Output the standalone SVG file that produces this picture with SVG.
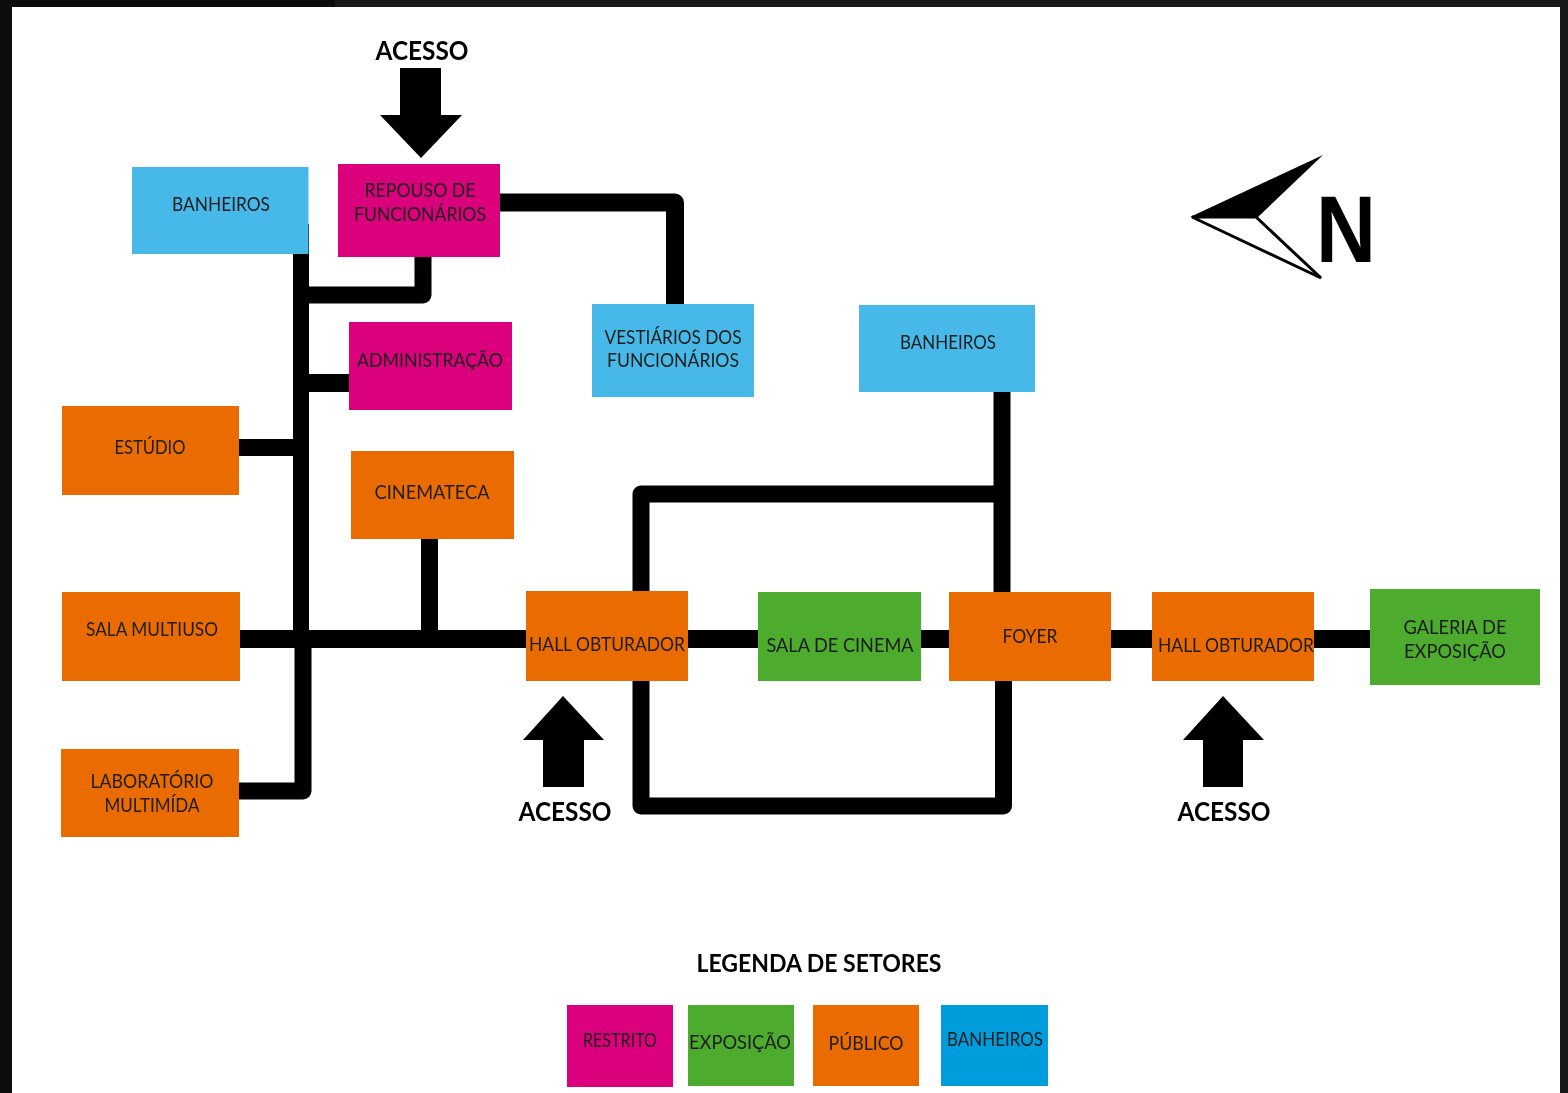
<svg xmlns="http://www.w3.org/2000/svg" width="1568" height="1093" viewBox="0 0 1568 1093">
<defs><filter id="soft" x="-5%" y="-20%" width="110%" height="140%"><feGaussianBlur stdDeviation="0.5"/></filter></defs>
<style>
.m{fill:#db007b}.b{fill:#46b9e9}.o{fill:#ea6c00}.g{fill:#4dab2e}.lb{fill:#009ddd}
text{font-family:"Lato","Liberation Sans",sans-serif;fill:#1c1c1c;font-size:20px;text-anchor:middle;filter:url(#soft)}
.h{font-weight:700;fill:#000;font-size:26px}
.w{fill:none;stroke:#000;stroke-width:16;stroke-linejoin:round;stroke-linecap:butt}
.t{stroke-width:18}
.l{stroke-width:17}
</style>
<rect width="1568" height="1093" fill="#fff"/>
<g id="frame"><rect width="335" height="7" fill="#0c0c0c"/><rect x="335" width="1233" height="7" fill="#191919"/><rect y="0" width="12" height="1093" fill="#0c0c0c"/><rect x="1560" y="0" width="8" height="1093" fill="#191919"/></g>
<g id="connectors">
<path class="w" d="M301 224V639"/>
<path class="w l" d="M303 639V791H239"/>
<path class="w l" d="M301 295H423V257"/>
<path class="w t" d="M301 383H349"/>
<path class="w l" d="M239 447.500H301"/>
<path class="w t" d="M499 202.500H675V304"/>
<path class="w t" d="M240 639H1370"/>
<path class="w l" d="M429.500 539V639"/>
<path class="w l" d="M641 592V494H1002"/>
<path class="w l" d="M1002 392V592"/>
<path class="w l" d="M641 681V806H1003.500V681"/>
</g>
<g id="no1"><rect class="b" x="132" y="167" width="176.500" height="87"/><text x="221" y="211" textLength="98" lengthAdjust="spacingAndGlyphs">BANHEIROS</text></g>
<g id="no2"><rect class="m" x="338" y="164" width="162" height="93"/><text x="420" y="197" textLength="111" lengthAdjust="spacingAndGlyphs">REPOUSO DE</text><text x="420" y="221" textLength="132" lengthAdjust="spacingAndGlyphs">FUNCIONÁRIOS</text></g>
<g id="no3"><rect class="m" x="349" y="322" width="163" height="88"/><text x="430" y="367" textLength="146" lengthAdjust="spacingAndGlyphs">ADMINISTRAÇÃO</text></g>
<g id="no4"><rect class="b" x="592" y="304" width="162" height="93"/><text x="673" y="344" textLength="137" lengthAdjust="spacingAndGlyphs">VESTIÁRIOS DOS</text><text x="673" y="367" textLength="132" lengthAdjust="spacingAndGlyphs">FUNCIONÁRIOS</text></g>
<g id="no5"><rect class="b" x="859" y="305" width="176" height="87"/><text x="948" y="349" textLength="96" lengthAdjust="spacingAndGlyphs">BANHEIROS</text></g>
<g id="no6"><rect class="o" x="62" y="406" width="177" height="89"/><text x="150" y="454" textLength="71" lengthAdjust="spacingAndGlyphs">ESTÚDIO</text></g>
<g id="no7"><rect class="o" x="351" y="451" width="163" height="88"/><text x="432" y="499" textLength="115" lengthAdjust="spacingAndGlyphs">CINEMATECA</text></g>
<g id="no8"><rect class="o" x="62" y="592" width="178" height="89"/><text x="152" y="636" textLength="132" lengthAdjust="spacingAndGlyphs">SALA MULTIUSO</text></g>
<g id="no9"><rect class="o" x="526" y="591" width="162" height="90"/><text x="607" y="651" textLength="156" lengthAdjust="spacingAndGlyphs">HALL OBTURADOR</text></g>
<g id="no10"><rect class="g" x="758" y="592" width="163" height="89"/><text x="840" y="652" textLength="147" lengthAdjust="spacingAndGlyphs">SALA DE CINEMA</text></g>
<g id="no11"><rect class="o" x="949" y="592" width="162" height="89"/><text x="1030" y="643" textLength="55" lengthAdjust="spacingAndGlyphs">FOYER</text></g>
<g id="no12"><rect class="o" x="1152" y="592" width="162" height="89"/><text x="1236" y="652" textLength="156" lengthAdjust="spacingAndGlyphs">HALL OBTURADOR</text></g>
<g id="no13"><rect class="g" x="1370" y="589" width="170" height="96"/><text x="1455" y="634" textLength="103" lengthAdjust="spacingAndGlyphs">GALERIA DE</text><text x="1455" y="658" textLength="102" lengthAdjust="spacingAndGlyphs">EXPOSIÇÃO</text></g>
<g id="no14"><rect class="o" x="61" y="749" width="178" height="88"/><text x="152" y="788" textLength="123" lengthAdjust="spacingAndGlyphs">LABORATÓRIO</text><text x="152" y="812" textLength="95" lengthAdjust="spacingAndGlyphs">MULTIMÍDA</text></g>
<g id="acesso1"><text class="h" x="422" y="60" textLength="93" lengthAdjust="spacingAndGlyphs">ACESSO</text><polygon points="400,68 441,68 441,115 462,115 421,158 380,115 400,115"/></g>
<g id="acesso2"><polygon points="543,787 584,787 584,740 604,740 563,696 523,740 543,740"/><text class="h" x="565" y="821" textLength="93" lengthAdjust="spacingAndGlyphs">ACESSO</text></g>
<g id="acesso3"><polygon points="1203,787 1243,787 1243,740 1264,740 1223,696 1183,740 1203,740"/><text class="h" x="1224" y="821" textLength="93" lengthAdjust="spacingAndGlyphs">ACESSO</text></g>
<g id="norte">
<polygon points="1190,217 1323,155 1258,217"/>
<path d="M1192 217H1256L1321 278Z" fill="#fff" stroke="#000" stroke-width="3" stroke-linejoin="miter"/>
<text x="1346" y="262" style="font-family:'Liberation Sans',sans-serif;font-weight:700;font-size:94px;fill:#000" textLength="60" lengthAdjust="spacingAndGlyphs">N</text>
</g>
<g id="legenda">
<text class="h" x="819" y="972" style="font-size:25px" textLength="245" lengthAdjust="spacingAndGlyphs">LEGENDA DE SETORES</text>
<g id="leg1"><rect class="m" x="567" y="1005" width="106" height="82"/><text x="620" y="1047" textLength="74" lengthAdjust="spacingAndGlyphs">RESTRITO</text></g>
<g id="leg2"><rect class="g" x="688" y="1005" width="106" height="81"/><text x="740" y="1049" textLength="102" lengthAdjust="spacingAndGlyphs">EXPOSIÇÃO</text></g>
<g id="leg3"><rect class="o" x="813" y="1005" width="106" height="81"/><text x="866" y="1050" textLength="75" lengthAdjust="spacingAndGlyphs">PÚBLICO</text></g>
<g id="leg4"><rect class="lb" x="941" y="1005" width="107" height="81"/><text x="995" y="1046" textLength="96" lengthAdjust="spacingAndGlyphs">BANHEIROS</text></g>
</g>
</svg>
